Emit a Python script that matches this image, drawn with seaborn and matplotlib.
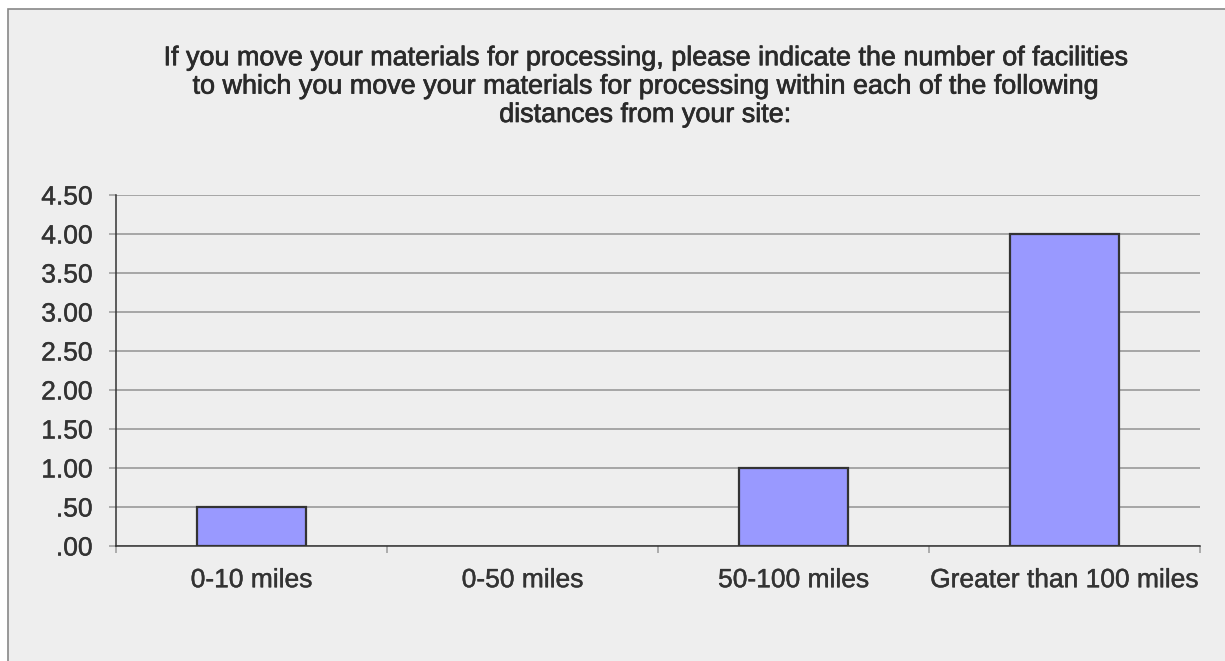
import matplotlib
matplotlib.use("Agg")
import matplotlib.pyplot as plt
import matplotlib.patheffects as pe
from matplotlib.patches import Rectangle
from matplotlib.ticker import FixedLocator, FuncFormatter
import numpy as np
import pandas as pd
import seaborn as sns

# data
categories = ["0-10 miles", "0-50 miles", "50-100 miles", "Greater than 100 miles"]
facilities = [0.5, 0.0, 1.0, 4.0]
y_ticks = [0.0, 0.5, 1.0, 1.5, 2.0, 2.5, 3.0, 3.5, 4.0, 4.5]
title = ("If you move your materials for processing, please indicate the number of facilities\n"
         "to which you move your materials for processing within each of the following\n"
         "distances from your site:")

sns.set_style("white")
plt.rcParams['font.family'] = ['Liberation Sans', 'DejaVu Sans']
text_col = "#333333"

df = pd.DataFrame({"category": categories, "value": facilities})

fig = plt.figure(figsize=(12.25, 6.61), dpi=100)
fig.patch.set_facecolor("white")
# chart frame, open to the right and bottom like the reference
fig.patches.append(Rectangle((8/1225, -0.2), 1.5, 1.2 - 9/661,
                             transform=fig.transFigure, facecolor="#eeeeee",
                             edgecolor="#888888", linewidth=1.2, zorder=-5))

ax = fig.add_axes([116/1225, 1 - 546/661, (1200 - 116)/1225, (546 - 195)/661])
ax.patch.set_alpha(0)

sns.barplot(data=df, x="category", y="value", ax=ax, color="#9999ff",
            saturation=1, width=0.4, edgecolor="#333333", linewidth=1.6,
            zorder=3)
# no outline for the empty category
for p in ax.patches:
    if p.get_height() == 0:
        p.set_visible(False)

ax.set_xlim(-0.5, 3.5)
ax.set_ylim(0, 4.5)
ax.yaxis.set_major_locator(FixedLocator(y_ticks))
ax.yaxis.set_major_formatter(FuncFormatter(lambda v, p: ("%.2f" % v).lstrip("0") if v < 1 else "%.2f" % v))
ax.grid(axis="y", color="#a0a0a0", linewidth=1.3, zorder=0)
ax.set_axisbelow(True)

for s in ["top", "right"]:
    ax.spines[s].set_visible(False)
for s in ["left", "bottom"]:
    ax.spines[s].set_color("#333333")
    ax.spines[s].set_linewidth(1.1)

ax.tick_params(axis="y", length=5, color="#a0a0a0", width=1.2, labelsize=19,
               labelcolor=text_col, pad=12, left=True)
ax.tick_params(axis="x", which="major", length=0, labelsize=19,
               labelcolor=text_col, pad=16)
ax.xaxis.set_minor_locator(FixedLocator([-0.5, 0.5, 1.5, 2.5, 3.5]))
ax.tick_params(axis="x", which="minor", length=5, color="#a0a0a0", width=1.2, bottom=True)
ax.set_xlabel("")
ax.set_ylabel("")

# slightly heavier text, like the reference rendering
for lbl in ax.get_xticklabels() + ax.get_yticklabels():
    lbl.set_path_effects([pe.withStroke(linewidth=0.3, foreground=text_col)])

# baseline of the last title line
fig.text(645/1225, 1 - 122/661, title, ha="center", va="baseline", fontsize=19.4,
         color="#2a2a2a", linespacing=1.12,
         path_effects=[pe.withStroke(linewidth=0.5, foreground="#2a2a2a")])

fig.savefig("out.png", dpi=100)
